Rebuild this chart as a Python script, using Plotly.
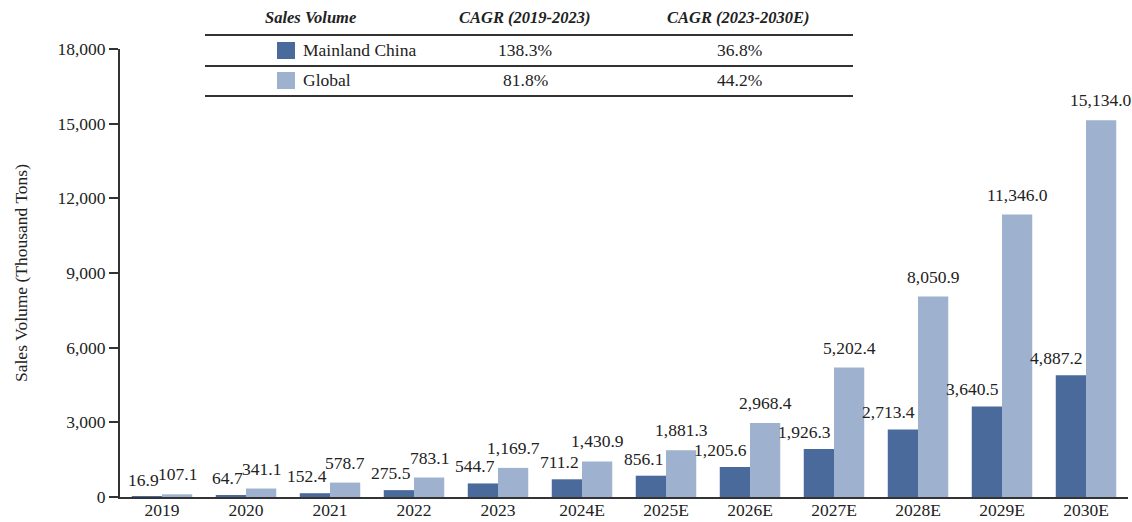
import plotly.graph_objects as go

categories = ["2019", "2020", "2021", "2022", "2023", "2024E", "2025E", "2026E",
              "2027E", "2028E", "2029E", "2030E"]
mainland_china = [16.9, 64.7, 152.4, 275.5, 544.7, 711.2, 856.1, 1205.6, 1926.3,
                  2713.4, 3640.5, 4887.2]
global_sales = [107.1, 341.1, 578.7, 783.1, 1169.7, 1430.9, 1881.3, 2968.4, 5202.4,
                8050.9, 11346.0, 15134.0]
y_ticks = [0, 3000, 6000, 9000, 12000, 15000, 18000]

table_header = ["Sales Volume", "CAGR (2019-2023)", "CAGR (2023-2030E)"]
table_series = ["Mainland China", "Global"]
cagr_2019_2023 = ["138.3%", "81.8%"]
cagr_2023_2030 = ["36.8%", "44.2%"]
y_title = "Sales Volume (Thousand Tons)"

DARK = "#4a6a9b"
LIGHT = "#9eb1ce"
TEXT = "#222222"
FONT = "Liberation Serif, Times New Roman, serif"
FS = 17.5

idx = list(range(len(categories)))
fig = go.Figure()
fig.add_trace(go.Bar(x=idx, y=mainland_china, width=0.36, offset=-0.36,
                     marker=dict(color=DARK, line=dict(width=0)), name="Mainland China",
                     showlegend=False))
fig.add_trace(go.Bar(x=idx, y=global_sales, width=0.36, offset=0,
                     marker=dict(color=LIGHT, line=dict(width=0)), name="Global",
                     showlegend=False))

annotations = []
for i, v in zip(idx, mainland_china):
    annotations.append(dict(x=i, y=v, xref="x", yref="y", text=f"{v:,.1f}",
                            xanchor="right", yanchor="bottom", xshift=-1, yshift=5,
                            showarrow=False, font=dict(family=FONT, size=FS, color=TEXT)))
for i, v in zip(idx, global_sales):
    annotations.append(dict(x=i + 0.18, y=v, xref="x", yref="y", text=f"{v:,.1f}",
                            xanchor="center", yanchor="bottom", yshift=8,
                            showarrow=False, font=dict(family=FONT, size=FS, color=TEXT)))

# table (pixel -> paper conversion helpers)
L, R, T, B = 120, 1128, 49, 497
def px(x):
    return (x - L) / (R - L)
def py(y):
    return (B - y) / (B - T)

annotations.append(dict(x=px(21), y=py(273), xref="paper", yref="paper", text=y_title,
                        textangle=-90, xanchor="center", yanchor="middle", showarrow=False,
                        font=dict(family=FONT, size=FS, color=TEXT)))

header_x = [310, 525, 738]
for hx, h in zip(header_x, table_header):
    annotations.append(dict(x=px(hx), y=py(17), xref="paper", yref="paper", text=f"<b><i>{h}</i></b>",
                            xanchor="center", yanchor="middle", showarrow=False,
                            font=dict(family=FONT, size=16.5, color=TEXT)))
row_y = [50, 80]
colors = [DARK, LIGHT]
shapes = []
for ry, name, c1, c2, col in zip(row_y, table_series, cagr_2019_2023, cagr_2023_2030, colors):
    annotations.append(dict(x=px(301), y=py(ry), xref="paper", yref="paper", text=name,
                            xanchor="left", yanchor="middle", showarrow=False,
                            font=dict(family=FONT, size=FS, color=TEXT)))
    annotations.append(dict(x=px(525), y=py(ry), xref="paper", yref="paper", text=c1,
                            xanchor="center", yanchor="middle", showarrow=False,
                            font=dict(family=FONT, size=FS, color=TEXT)))
    annotations.append(dict(x=px(739), y=py(ry), xref="paper", yref="paper", text=c2,
                            xanchor="center", yanchor="middle", showarrow=False,
                            font=dict(family=FONT, size=FS, color=TEXT)))
    shapes.append(dict(type="rect", xref="paper", yref="paper",
                       x0=px(277), x1=px(295), y0=py(ry + 9), y1=py(ry - 8),
                       fillcolor=col, line=dict(width=0)))
for ly in [35, 66, 96]:
    shapes.append(dict(type="line", xref="paper", yref="paper",
                       x0=px(205), x1=px(853), y0=py(ly), y1=py(ly),
                       line=dict(color="#333333", width=2)))

fig.update_layout(
    width=1132, height=522,
    margin=dict(l=L, r=1132 - R, t=T, b=522 - B),
    paper_bgcolor="white", plot_bgcolor="white",
    barmode="overlay",
    font=dict(family=FONT, size=FS, color=TEXT),
    annotations=annotations, shapes=shapes,
    xaxis=dict(range=[-0.5, len(categories) - 0.5], tickvals=idx, ticktext=categories,
               showline=True, linecolor="#333333", linewidth=2, ticks="", showgrid=False,
               zeroline=False, automargin=False, ticklabelstandoff=-4,
               tickfont=dict(family=FONT, size=FS, color=TEXT)),
    yaxis=dict(range=[0, 18000], tickvals=y_ticks, tickformat=",", showline=True,
               linecolor="#333333", linewidth=2, ticks="outside", ticklen=9,
               tickcolor="#333333", tickwidth=1.5, showgrid=False, zeroline=False,
               automargin=False,
               tickfont=dict(family=FONT, size=FS, color=TEXT)),
)

fig.write_html("out.html")
